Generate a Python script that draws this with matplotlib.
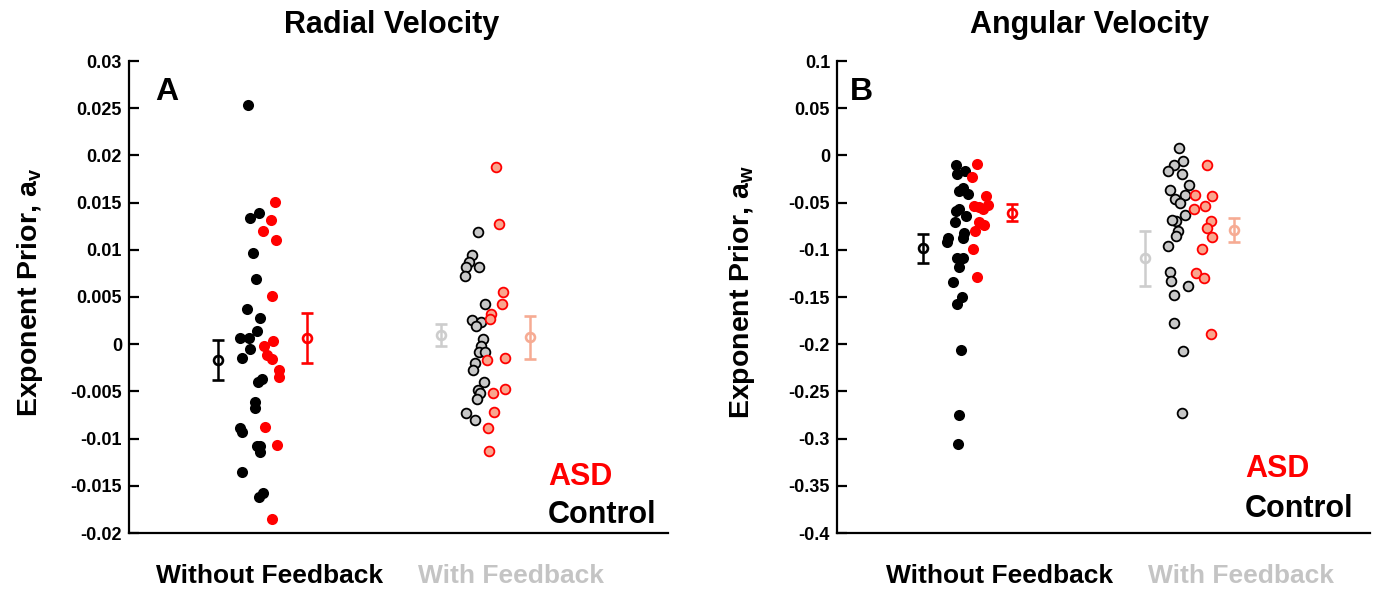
import matplotlib
matplotlib.use("Agg")
import matplotlib.pyplot as plt
import numpy as np

plt.rcParams['font.family'] = ['Liberation Sans', 'DejaVu Sans']
plt.rcParams['font.weight'] = 'bold'
plt.rcParams['axes.unicode_minus'] = False
plt.rcParams['mathtext.fontset'] = 'custom'
plt.rcParams['mathtext.rm'] = 'Liberation Sans:bold'
plt.rcParams['mathtext.bf'] = 'Liberation Sans:bold'
plt.rcParams['mathtext.it'] = 'Liberation Sans:bold'

# ---------------- data ----------------
categories = ["Without Feedback", "With Feedback"]
group_pos = [1.0, 2.0]

# Panel A: radial velocity
rad_ctrl_nofb_y = [0.02533, 0.01394, 0.01341, 0.00962, 0.00686, 0.00375, 0.00275, 0.00137,
                   0.0007, 0.0007, -0.00054, -0.0015, -0.00404, -0.00372, -0.00617, -0.00677,
                   -0.00893, -0.00928, -0.0108, -0.0108, -0.0114, -0.01352, -0.01618, -0.01579]
rad_ctrl_nofb_jit = [-0.090, -0.044, -0.082, -0.069, -0.059, -0.097, -0.041, -0.053,
                     -0.124, -0.088, -0.082, -0.116, -0.051, -0.032, -0.061, -0.061,
                     -0.126, -0.115, -0.055, -0.040, -0.041, -0.117, -0.047, -0.030]
rad_asd_nofb_y = [0.0151, 0.01315, 0.01199, 0.01103, 0.00513, 0.00031, -0.00018, -0.00114,
                  -0.00156, -0.00273, -0.00344, -0.00882, -0.01066, -0.01851]
rad_asd_nofb_jit = [0.021, 0.004, -0.029, 0.025, 0.010, 0.012, -0.026, -0.011,
                    0.008, 0.036, 0.036, -0.022, 0.029, 0.008]
rad_ctrl_fb_y = [0.01188, 0.0094, 0.0087, 0.00816, 0.00816, 0.00718, 0.00424, 0.00261,
                 0.0024, 0.0019, 0.00052, -0.00022, -0.00082, -0.00082, -0.00199, -0.00273,
                 -0.004, -0.00482, -0.00517, -0.00581, -0.00726, -0.00804]
rad_ctrl_fb_jit = [-0.137, -0.161, -0.174, -0.187, -0.132, -0.192, -0.108, -0.161,
                   -0.123, -0.145, -0.117, -0.124, -0.133, -0.108, -0.151, -0.158,
                   -0.113, -0.138, -0.129, -0.140, -0.187, -0.149]
rad_asd_fb_y = [0.01872, 0.0127, 0.00555, 0.00424, 0.00322, 0.00269, -0.00163, -0.00146,
                -0.00517, -0.00479, -0.00716, -0.00893, -0.01133]
rad_asd_fb_jit = [-0.063, -0.049, -0.033, -0.036, -0.084, -0.088, -0.098, -0.024,
                  -0.073, -0.025, -0.069, -0.097, -0.090]
# means and SEM: ctrl_nofb, asd_nofb, ctrl_fb, asd_fb
rad_mean = [-0.00167, 0.0007, 0.00102, 0.00073]
rad_sem = [0.0021, 0.00265, 0.00117, 0.00226]
rad_mean_off = [-0.217, 0.155, -0.290, 0.080]

# Panel B: angular velocity
ang_ctrl_nofb_y = [-0.0103, -0.0195, -0.017, -0.0372, -0.035, -0.0407, -0.0584, -0.0566,
                   -0.064, -0.0704, -0.0817, -0.0874, -0.0874, -0.092, -0.109, -0.109,
                   -0.1186, -0.1345, -0.1504, -0.1574, -0.2063, -0.2749, -0.306]
ang_ctrl_nofb_jit = [-0.184, -0.177, -0.145, -0.169, -0.152, -0.133, -0.183, -0.170,
                     -0.141, -0.185, -0.149, -0.155, -0.215, -0.221, -0.180, -0.155,
                     -0.170, -0.194, -0.159, -0.177, -0.160, -0.171, -0.173]
ang_asd_nofb_y = [-0.0096, -0.023, -0.0425, -0.0523, -0.0538, -0.0566, -0.0549, -0.0701,
                  -0.0736, -0.0796, -0.099, -0.1285]
ang_asd_nofb_jit = [-0.095, -0.116, -0.058, -0.050, -0.109, -0.069, -0.086, -0.087,
                    -0.068, -0.104, -0.113, -0.095]
ang_ctrl_fb_y = [0.0082, -0.0064, -0.0099, -0.0166, -0.0195, -0.0311, -0.0364, -0.0417,
                 -0.0467, -0.0499, -0.063, -0.069, -0.0683, -0.0796, -0.0849, -0.0955,
                 -0.124, -0.1334, -0.1387, -0.1476, -0.1776, -0.2067, -0.2731]
ang_ctrl_fb_jit = [-0.257, -0.241, -0.277, -0.303, -0.246, -0.217, -0.293, -0.232,
                   -0.274, -0.252, -0.231, -0.271, -0.285, -0.260, -0.270, -0.304,
                   -0.296, -0.290, -0.221, -0.278, -0.279, -0.241, -0.246]
ang_asd_fb_y = [-0.0099, -0.0417, -0.0435, -0.0531, -0.0573, -0.069, -0.0772, -0.086,
                -0.0994, -0.1245, -0.1295, -0.1893]
ang_asd_fb_jit = [-0.141, -0.192, -0.122, -0.149, -0.196, -0.124, -0.141, -0.119,
                  -0.162, -0.187, -0.152, -0.124]
ang_mean = [-0.0984, -0.0608, -0.109, -0.0789]
ang_sem = [0.0154, 0.0092, 0.029, 0.0128]
ang_mean_off = [-0.321, 0.050, -0.397, -0.028]

rad_ticks = [0.03, 0.025, 0.02, 0.015, 0.01, 0.005, 0, -0.005, -0.01, -0.015, -0.02]
rad_ticklabels = ["0.03", "0.025", "0.02", "0.015", "0.01", "0.005", "0", "-0.005", "-0.01", "-0.015", "-0.02"]
ang_ticks = [0.1, 0.05, 0, -0.05, -0.1, -0.15, -0.2, -0.25, -0.3, -0.35, -0.4]
ang_ticklabels = ["0.1", "0.05", "0", "-0.05", "-0.1", "-0.15", "-0.2", "-0.25", "-0.3", "-0.35", "-0.4"]

# ---------------- style ----------------
BLACK = "#000000"
RED = "#ff0000"
GRAY_FILL = "#c8c8c8"
SALMON_FILL = "#f9a68e"
GRAY_EB = "#cdcdcd"
SALMON_EB = "#f6ab93"
LABEL_GRAY = "#c4c4c4"

fig = plt.figure(figsize=(13.74, 5.91), dpi=100)
axA = fig.add_axes([129/1374, 1-533/591, 539/1374, 472/591])
axB = fig.add_axes([837/1374, 1-533/591, 533/1374, 472/591])


def draw_panel(ax, c_nofb, cj_nofb, a_nofb, aj_nofb, c_fb, cj_fb, a_fb, aj_fb,
               means, sems, moff, ylim, ticks, ticklabels, xlim):
    g1, g2 = group_pos
    # without feedback
    ax.plot(g1 + np.array(cj_nofb), c_nofb, 'o', color=BLACK, ms=8.0, mew=0, zorder=3)
    ax.plot(g1 + np.array(aj_nofb), a_nofb, 'o', color=RED, ms=8.0, mew=0, zorder=4)
    # with feedback
    ax.plot(g2 + np.array(cj_fb), c_fb, 'o', mfc=GRAY_FILL, mec=BLACK, ms=7.0, mew=1.3, zorder=3)
    ax.plot(g2 + np.array(aj_fb), a_fb, 'o', mfc=SALMON_FILL, mec=RED, ms=7.0, mew=1.3, zorder=4)
    # means +- sem
    eb_x = [g1 + moff[0], g1 + moff[1], g2 + moff[2], g2 + moff[3]]
    eb_c = [BLACK, RED, GRAY_EB, SALMON_EB]
    for x, m, s, c in zip(eb_x, means, sems, eb_c):
        ax.errorbar([x], [m], yerr=[s], fmt='o', color=c, mfc='none', mec=c, ms=6.4,
                    mew=1.9, elinewidth=1.8, capsize=4, capthick=1.9, zorder=5)
    ax.set_xlim(*xlim)
    ax.set_ylim(*ylim)
    ax.set_yticks(ticks)
    ax.set_yticklabels(ticklabels)
    ax.set_xticks([])
    for sp in ['top', 'right']:
        ax.spines[sp].set_visible(False)
    for sp in ['left', 'bottom']:
        ax.spines[sp].set_linewidth(1.6)
    ax.tick_params(axis='y', direction='in', length=7.5, width=1.6, pad=5, labelsize=13)
    for lab in ax.get_yticklabels():
        lab.set_fontweight('bold')
    tr = ax.get_xaxis_transform()
    ax.text(g1, -0.106, categories[0], transform=tr, ha='center', va='baseline',
            fontsize=19, fontweight='bold', color=BLACK)
    ax.text(g2, -0.106, categories[1], transform=tr, ha='center', va='baseline',
            fontsize=19, fontweight='bold', color=LABEL_GRAY)


draw_panel(axA, rad_ctrl_nofb_y, rad_ctrl_nofb_jit, rad_asd_nofb_y, rad_asd_nofb_jit,
           rad_ctrl_fb_y, rad_ctrl_fb_jit, rad_asd_fb_y, rad_asd_fb_jit,
           rad_mean, rad_sem, rad_mean_off, (-0.02, 0.03), rad_ticks, rad_ticklabels,
           (0.415, 2.651))
draw_panel(axB, ang_ctrl_nofb_y, ang_ctrl_nofb_jit, ang_asd_nofb_y, ang_asd_nofb_jit,
           ang_ctrl_fb_y, ang_ctrl_fb_jit, ang_asd_fb_y, ang_asd_fb_jit,
           ang_mean, ang_sem, ang_mean_off, (-0.4, 0.1), ang_ticks, ang_ticklabels,
           (0.324, 2.535))

# y labels
axA.text(-0.184, 0.51, r"Exponent Prior, a$_\mathbf{v}$", transform=axA.transAxes,
         rotation=90, ha='center', va='center', fontsize=20.5, fontweight='bold')
axB.text(-0.178, 0.51, r"Exponent Prior, a$_\mathbf{w}$", transform=axB.transAxes,
         rotation=90, ha='center', va='center', fontsize=20.5, fontweight='bold')

# titles
fig.text(392/1374, 1-33/591, "Radial Velocity", ha='center', va='baseline',
         fontsize=22, fontweight='bold')
fig.text(1089/1374, 1-33/591, "Angular Velocity", ha='center', va='baseline',
         fontsize=22, fontweight='bold')

# panel letters
fig.text(155/1374, 1-100/591, "A", ha='left', va='baseline', fontsize=23, fontweight='bold')
fig.text(850/1374, 1-100/591, "B", ha='left', va='baseline', fontsize=23, fontweight='bold')

# group legends
axA.text(0.777, 0.102, "ASD", transform=axA.transAxes, ha='left', va='baseline',
         fontsize=22, fontweight='bold', color=RED)
axA.text(0.777, 0.021, "Control", transform=axA.transAxes, ha='left', va='baseline',
         fontsize=22, fontweight='bold', color=BLACK)
axB.text(0.765, 0.119, "ASD", transform=axB.transAxes, ha='left', va='baseline',
         fontsize=22, fontweight='bold', color=RED)
axB.text(0.765, 0.034, "Control", transform=axB.transAxes, ha='left', va='baseline',
         fontsize=22, fontweight='bold', color=BLACK)

fig.savefig("out.png", dpi=100)
